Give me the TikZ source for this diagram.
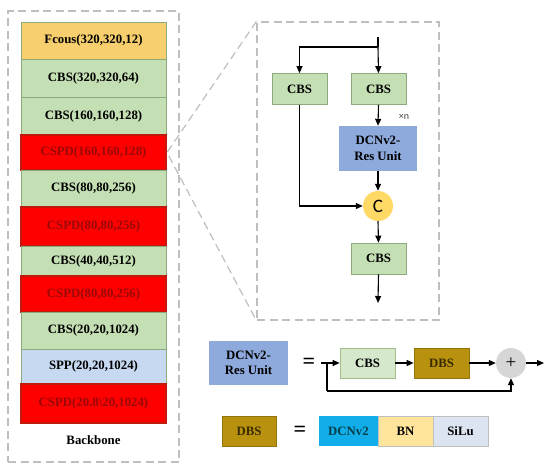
\documentclass[tikz,border=0pt]{standalone}
\usepackage{fontspec}
\setmainfont{Liberation Serif}
\newfontfamily\cfont{Carlito}
\usetikzlibrary{arrows.meta}
\definecolor{fyel}{HTML}{F8CF6E}
\definecolor{sgreen}{HTML}{C5DFB4}
\definecolor{sgreenb}{HTML}{8CAA7E}
\definecolor{cspdred}{HTML}{FF0000}
\definecolor{cspdbd}{HTML}{C01A0C}
\definecolor{cspdtxt}{HTML}{9A0808}
\definecolor{sppblue}{HTML}{C6D9F0}
\definecolor{dcnblue}{HTML}{8EA9DB}
\definecolor{ccyel}{HTML}{FFD966}
\definecolor{lgreen}{HTML}{D5E8CB}
\definecolor{lgreenb}{HTML}{A0C090}
\definecolor{dbsol}{HTML}{B8910F}
\definecolor{dbstxt}{HTML}{3A2A00}
\definecolor{dcnsky}{HTML}{12AEEA}
\definecolor{dcnsktxt}{HTML}{06404A}
\definecolor{bnyel}{HTML}{FFE49C}
\definecolor{silub}{HTML}{DCE4F2}
\definecolor{plusg}{HTML}{D6D6D6}
\definecolor{dashg}{HTML}{BFBFBF}
\tikzset{
  lbl/.style={font=\fontsize{12.8}{14}\selectfont\bfseries},
  stackbox/.style={lbl, rectangle, draw=sgreenb, line width=0.6pt, minimum width=145pt, inner sep=0pt},
  cspdbox/.style={stackbox, fill=cspdred, draw=cspdbd, line width=2pt, text=cspdtxt},
  gbox/.style={lbl, rectangle, fill=sgreen, draw=sgreenb, line width=0.7pt, minimum width=55pt, minimum height=31pt, inner sep=0pt},
  bbox/.style={lbl, rectangle, fill=dcnblue, align=center, inner sep=0pt, font=\fontsize{12.8}{15.5}\selectfont\bfseries},
  dashbox/.style={draw=dashg, line width=1.2pt, dash pattern=on 8pt off 4.5pt, rectangle, inner sep=0pt},
  arr/.style={line width=1.1pt, -{Triangle[length=7pt,width=6pt]}},
  ln/.style={line width=1.1pt},
  eqs/.style={font=\fontsize{22}{22}\selectfont\bfseries, inner sep=0pt},
}
\begin{document}
\begin{tikzpicture}[x=1pt,y=-1pt]
\useasboundingbox (0,0) rectangle (550,469);
% left dashed box
\node[dashbox, minimum width=171pt, minimum height=451pt] (lbox) at (93.5,236.5) {};
% stack
\node[stackbox, fill=fyel, minimum height=37pt] (s1) at (93.5,40.5) {Fcous(320,320,12)};
\node[stackbox, fill=sgreen, minimum height=38pt] (s2) at (93.5,78) {CBS(320,320,64)};
\node[stackbox, fill=sgreen, minimum height=38pt] (s3) at (93.5,116) {CBS(160,160,128)};
\node[cspdbox, minimum height=35pt] (s4) at (93.5,152.5) {CSPD(160,160,128)};
\node[stackbox, fill=sgreen, minimum height=37pt] (s5) at (93.5,188.5) {CBS(80,80,256)};
\node[cspdbox, minimum height=39pt] (s6) at (93.5,226.5) {CSPD(80,80,256)};
\node[stackbox, fill=sgreen, minimum height=30pt] (s7) at (93.5,261) {CBS(40,40,512)};
\node[cspdbox, minimum height=36pt] (s8) at (93.5,294) {CSPD(80,80,256)};
\node[stackbox, fill=sgreen, minimum height=37pt] (s9) at (93.5,330.5) {CBS(20,20,1024)};
\node[stackbox, fill=sppblue, minimum height=35pt] (s10) at (93.5,366.5) {SPP(20,20,1024)};
\node[cspdbox, minimum height=39pt] (s11) at (93.5,403.5) {CSPD(20.8\textbackslash20,1024)};
\node[lbl] (bb) at (93.5,440) {Backbone};
% right dashed box
\node[dashbox, minimum width=182pt, minimum height=298pt] (rbox) at (348,171) {};
\draw[dashg, line width=1.2pt, dash pattern=on 8pt off 4.5pt] (rbox.north west) -- (s4.east) -- (rbox.south west);
% right panel
\coordinate (in) at (378,37);
\coordinate (br) at (378,47);
\node[gbox] (cbsL) at (299.5,89) {CBS};
\node[gbox] (cbsR) at (378.5,89) {CBS};
\node[bbox, minimum width=78pt, minimum height=45pt] (dcn) at (378,148.5) {DCNv2-\\Res Unit};
\node[circle, fill=ccyel, minimum size=30pt, inner sep=0pt, font=\cfont\fontsize{19}{19}\selectfont] (cc) at (378,206) {C};
\node[gbox] (cbsB) at (378.5,258.5) {CBS};
\coordinate (out) at (378,303);
\node[font=\cfont\fontsize{10}{10}\selectfont, text=black!75, inner sep=0pt] (xn) at (404,117) {×n};
\draw[ln] (in) -- (br);
\draw[arr] (br) -- (cbsR.north);
\draw[arr] (br) -| (cbsL.north);
\draw[arr] (cbsR.south) -- (dcn.north);
\draw[arr] (dcn.south) -- (cc.north);
\draw[arr] (cbsL.south) |- (cc.west);
\draw[arr] (cc.south) -- (cbsB.north);
\draw[arr] (cbsB.south) -- (out);
% DCNv2-Res Unit definition
\node[bbox, minimum width=79pt, minimum height=44pt] (dcnU) at (248.5,363) {DCNv2-\\Res Unit};
\node[eqs] (eq1) at (309,363) {=};
\coordinate (s0) at (321,363);
\coordinate (sk) at (327,363);
\coordinate (skb) at (327,391);
\node[gbox, fill=lgreen, draw=lgreenb, minimum height=30pt] (cbs2) at (367.5,363) {CBS};
\node[gbox, fill=dbsol, draw=dbsol!80!black, text=dbstxt, minimum height=30pt] (dbs1) at (441.5,363) {DBS};
\node[circle, fill=plusg, minimum size=30pt, inner sep=0pt, font=\fontsize{19}{19}\selectfont] (plus) at (511,363) {+};
\coordinate (out2) at (544,363);
\draw[arr] (s0) -- (cbs2.west);
\draw[arr] (cbs2.east) -- (dbs1.west);
\draw[arr] (dbs1.east) -- (plus.west);
\draw[arr] (plus.east) -- (out2);
\draw[ln] (sk) -- (skb);
\draw[arr] (skb) -| (plus.south);
% DBS definition
\node[gbox, fill=dbsol, draw=dbsol!80!black, text=dbstxt, minimum width=54pt, minimum height=30pt] (dbs2) at (249,431) {DBS};
\node[eqs] (eq2) at (300,431) {=};
\node[lbl, fill=dcnsky, text=dcnsktxt, minimum width=59pt, minimum height=30pt, inner sep=0pt] (dcn2) at (348.5,431) {DCNv2};
\node[lbl, fill=bnyel, draw=black!25, line width=0.5pt, minimum width=55pt, minimum height=30pt, inner sep=0pt] (bn) at (405.5,431) {BN};
\node[lbl, fill=silub, draw=black!25, line width=0.5pt, minimum width=55pt, minimum height=30pt, inner sep=0pt] (silu) at (460.5,431) {SiLu};
\end{tikzpicture}
\end{document}
